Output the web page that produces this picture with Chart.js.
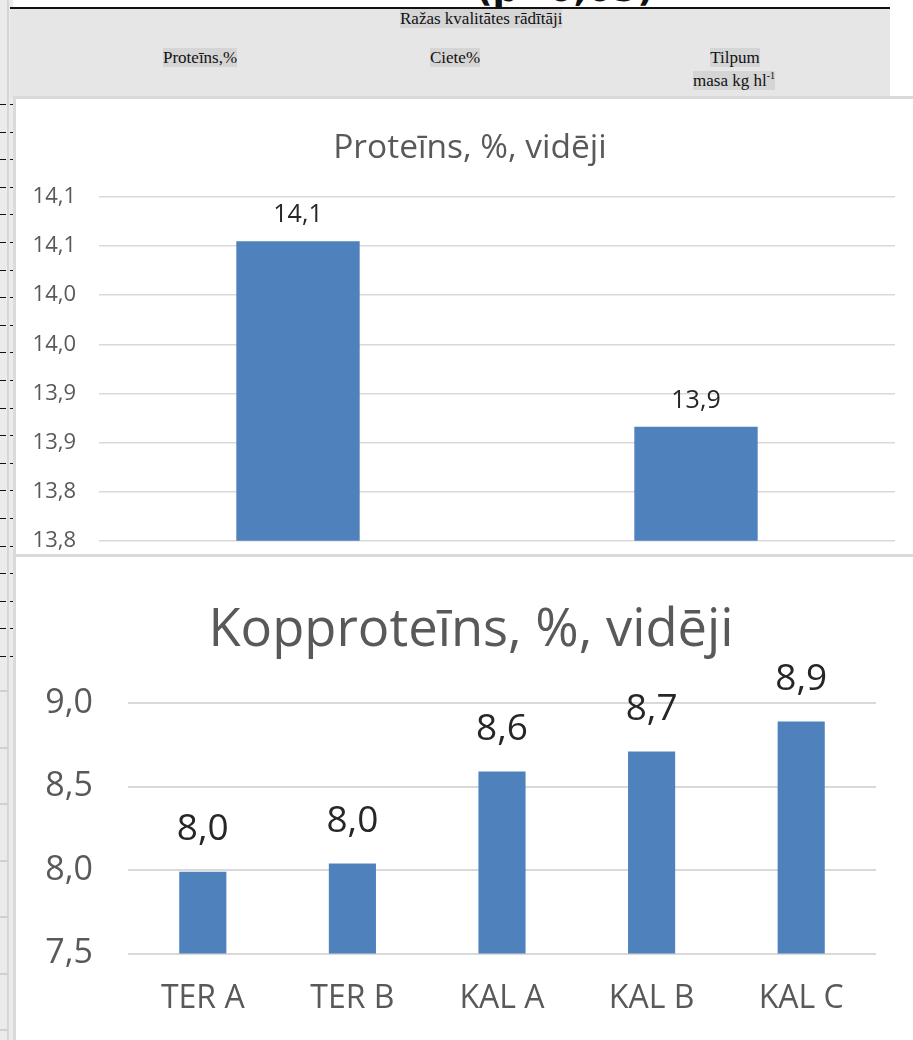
<!DOCTYPE html>
<html>
<head>
<meta charset="utf-8">
<script src="https://cdn.jsdelivr.net/npm/chart.js@4.4.1/dist/chart.umd.min.js"></script>
<style>
  body { margin: 0; width: 913px; height: 1040px; position: relative; overflow: hidden; background: #fff; }
  .abs { position: absolute; }
  #strip { left: 0; top: 0; width: 13px; height: 1040px; background: #ebebeb; }
  #stripLine { left: 7px; top: 0; width: 2px; height: 1040px; background: #d6d6d6; }
  #head { left: 10px; top: 9px; width: 880px; height: 89px; background: #e6e6e6; }
  #rule { left: 10px; top: 7px; width: 880px; height: 2px; background: #111; }
  #cut { left: 470px; top: -32px; width: 190px; font: bold 36px "DejaVu Sans", sans-serif; color: #111; text-align: center; }
  .serif { font: 17px/20px "Liberation Serif", serif; color: #111; }
  .serif span { background: #d5d5d5; }
  .panel { left: 13px; width: 900px; background: #fff; border-left: 3px solid #dadada; border-top: 3px solid #dadada; overflow: hidden; }
  #p1 { top: 96px; height: 455px; }
  #p2 { top: 554px; height: 486px; }
  canvas { display: block; }
  .title { font-family: "Open Sans", sans-serif; color: #595959; white-space: nowrap; transform: translate(-50%, -50%); line-height: 1.2; }
</style>
</head>
<body>
<div id="strip" class="abs"></div>
<div id="stripLine" class="abs"></div>
<div id="marks"></div>
<div id="head" class="abs"></div>
<div id="cut" class="abs">(p&lt;0,05)</div>
<div id="rule" class="abs"></div>
<div class="abs serif" style="left:400px; top:9px;"><span>Ražas kvalitātes rādītāji</span></div>
<div class="abs serif" style="left:163px; top:48px;"><span>Proteīns,%</span></div>
<div class="abs serif" style="left:430px; top:48px;"><span>Ciete%</span></div>
<div class="abs serif" style="left:705px; top:48px; width:60px; text-align:center;"><span>Tilpum</span></div>
<div class="abs serif" style="left:693px; top:66px;"><span>masa kg hl<sup style="font-size:10px">-1</sup></span></div>

<div id="p1" class="abs panel"><canvas id="chart1" width="897" height="478"></canvas></div>
<div id="p2" class="abs panel"><canvas id="chart2" width="897" height="487"></canvas></div>
<div class="abs title" style="left:470px; top:145px; font-size:33.5px;">Proteīns, %, vidēji</div>
<div class="abs title" style="left:471px; top:625px; font-size:52.5px;">Kopproteīns, %, vidēji</div>

<script>
// Proteīns chart
const proteinLabels = ['TER', 'KAL'];
const proteinValues = [14.055, 13.866];
const proteinAxis = [13.75, 14.10, 0.05]; // min, max, step

// Kopproteīns chart
const kopLabels = ['TER A', 'TER B', 'KAL A', 'KAL B', 'KAL C'];
const kopValues = [7.99, 8.04, 8.59, 8.71, 8.89];
const kopAxis = [7.5, 9.0, 0.5];

const barColor = '#4f81bd';
const font = 'Open Sans';

// comma decimal, one digit
function fmt(v) {
  return (Math.round(v * 10 + 1e-6) / 10).toFixed(1).replace('.', ',');
}

// little dashes on the left page edge
const marks = document.getElementById('marks');
for (let y = 104; y < 660; y += 27.6) {
  const d = document.createElement('div');
  d.className = 'abs';
  d.style.cssText = 'left:0;top:' + Math.round(y) + 'px;width:14px;height:1px;' +
    'background:repeating-linear-gradient(90deg,#111 0 6px,transparent 6px 10px);';
  marks.appendChild(d);
}
for (let y = 690; y < 1040; y += 56.5) {
  const d = document.createElement('div');
  d.className = 'abs';
  d.style.cssText = 'left:0;top:' + Math.round(y) + 'px;width:8px;height:2px;background:#d0d0d0;';
  marks.appendChild(d);
}

const valueLabels = {
  id: 'valueLabels',
  afterDatasetsDraw(chart, args, opts) {
    const ctx = chart.ctx;
    ctx.save();
    ctx.font = opts.font;
    ctx.fillStyle = opts.color;
    ctx.textAlign = 'center';
    ctx.textBaseline = 'middle';
    const vals = chart.data.datasets[0].data;
    chart.getDatasetMeta(0).data.forEach((bar, i) => {
      ctx.fillText(fmt(vals[i]), bar.x, bar.y - opts.offset);
    });
    ctx.restore();
  }
};

new Chart(document.getElementById('chart1'), {
  type: 'bar',
  data: {
    labels: proteinLabels,
    datasets: [{ data: proteinValues, backgroundColor: barColor, barPercentage: 0.31, categoryPercentage: 1 }]
  },
  options: {
    responsive: false,
    animation: false,
    layout: { padding: { top: 98, right: 18, bottom: 0, left: 0 } },
    plugins: {
      legend: { display: false },
      tooltip: { enabled: false },
      valueLabels: { font: '25px "Open Sans"', color: '#262626', offset: 26 }
    },
    scales: {
      x: { display: false },
      y: {
        min: proteinAxis[0], max: proteinAxis[1],
        border: { display: false },
        grid: { color: '#d9d9d9', lineWidth: 1.5, drawTicks: false },
        ticks: {
          stepSize: proteinAxis[2], padding: 23, color: '#595959',
          font: { family: font, size: 22 },
          callback: (v) => fmt(v)
        },
        afterFit: (s) => { s.width = 83; }
      }
    }
  },
  plugins: [valueLabels]
});

new Chart(document.getElementById('chart2'), {
  type: 'bar',
  data: {
    labels: kopLabels,
    datasets: [{ data: kopValues, backgroundColor: barColor, barPercentage: 0.315, categoryPercentage: 1 }]
  },
  options: {
    responsive: false,
    animation: false,
    layout: { padding: { top: 146, right: 37, bottom: 0, left: 0 } },
    plugins: {
      legend: { display: false },
      tooltip: { enabled: false },
      valueLabels: { font: '37px "Open Sans"', color: '#262626', offset: 42 }
    },
    scales: {
      x: {
        border: { display: false },
        grid: { display: false, drawTicks: false },
        ticks: { padding: 26, color: '#595959', font: { family: font, size: 32 } }
      },
      y: {
        min: kopAxis[0], max: kopAxis[1],
        border: { display: false },
        grid: { color: '#d9d9d9', lineWidth: 2, drawTicks: false },
        ticks: {
          stepSize: kopAxis[2], padding: 35, color: '#595959',
          font: { family: font, size: 34 },
          callback: (v) => fmt(v)
        },
        afterFit: (s) => { s.width = 112; }
      }
    }
  },
  plugins: [valueLabels]
});
</script>
</body>
</html>
